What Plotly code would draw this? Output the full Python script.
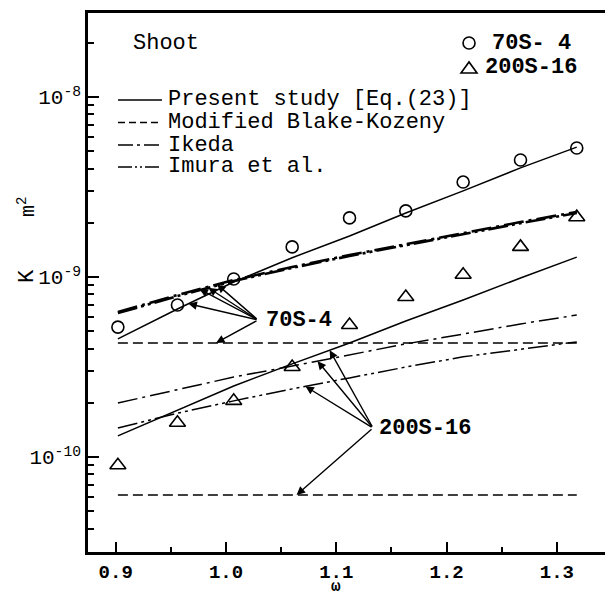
import numpy as np
import plotly.graph_objects as go

# ---------------- data ----------------
omega = [0.902, 0.956, 1.007, 1.060, 1.112, 1.163, 1.215, 1.267, 1.318]

# measured permeability (markers)
K_70S4 = [5.27e-10, 6.99e-10, 9.75e-10, 1.47e-9, 2.13e-9, 2.33e-9, 3.37e-9, 4.47e-9, 5.21e-9]
K_200S16 = [9.0e-11, 1.55e-10, 2.05e-10, 3.16e-10, 5.41e-10, 7.74e-10, 1.03e-9, 1.47e-9, 2.15e-9]

# Present study [Eq.(23)]
present_70S4 = [4.53e-10, 6.64e-10, 9.38e-10, 1.28e-9, 1.69e-9, 2.27e-9, 3.01e-9, 4.04e-9, 5.27e-9]
present_200S16 = [1.31e-10, 1.82e-10, 2.48e-10, 3.29e-10, 4.30e-10, 5.70e-10, 7.45e-10, 9.87e-10, 1.29e-9]

# Modified Blake-Kozeny (constant in omega)
bk_omega = [0.902, 1.318]
bk_70S4 = [4.30e-10, 4.30e-10]
bk_200S16 = [6.15e-11, 6.15e-11]

# Ikeda
ikeda_70S4 = [6.39e-10, 7.94e-10, 9.62e-10, 1.137e-9, 1.325e-9, 1.525e-9, 1.755e-9, 2.02e-9, 2.30e-9]
ikeda_200S16 = [1.995e-10, 2.36e-10, 2.78e-10, 3.20e-10, 3.69e-10, 4.25e-10, 4.82e-10, 5.48e-10, 6.15e-10]

# Imura et al.
imura_70S4 = [6.30e-10, 7.83e-10, 9.50e-10, 1.123e-9, 1.31e-9, 1.505e-9, 1.73e-9, 1.99e-9, 2.27e-9]
imura_200S16 = [1.45e-10, 1.75e-10, 2.05e-10, 2.39e-10, 2.75e-10, 3.16e-10, 3.60e-10, 3.98e-10, 4.36e-10]

x_ticks = [0.9, 1.0, 1.1, 1.2, 1.3]
x_ticktext = ["0.9", "1.0", "1.1", "1.2", "1.3"]
x_minor = [0.95, 1.05, 1.15, 1.25]
y_ticks = [1e-10, 1e-9, 1e-8]
y_ticktext = ["10<sup>-10</sup>", "10<sup>-9</sup>", "10<sup>-8</sup>"]
y_minor = [k * 10.0 ** e for e in (-11, -10, -9, -8) for k in range(2, 10)]

legend_lines = ["Present study [Eq.(23)]", "Modified Blake-Kozeny", "Ikeda", "Imura et al."]
series_names = ["70S- 4", "200S-16"]

# ---------------- styles ----------------
FONT = "Liberation Mono"
BLACK = "black"
DASH_BK = "10px,5px"
DASH_IKEDA = "20px,5px,3px,5px"
DASH_IMURA = "20px,4px,3px,4px,3px,4px"

fig = go.Figure()


def add_line(x, y, dash, width=1.5):
    fig.add_trace(go.Scatter(x=x, y=y, mode="lines",
                             line=dict(color=BLACK, width=width, dash=dash),
                             showlegend=False, hoverinfo="skip"))


add_line(omega, present_70S4, "solid")
add_line(omega, present_200S16, "solid")
add_line(bk_omega, bk_70S4, DASH_BK)
add_line(bk_omega, bk_200S16, DASH_BK)
add_line(omega, ikeda_70S4, DASH_IKEDA, 2.6)
add_line(omega, imura_70S4, DASH_IMURA, 2.6)
add_line(omega, ikeda_200S16, DASH_IKEDA)
add_line(omega, imura_200S16, DASH_IMURA)

fig.add_trace(go.Scatter(x=omega, y=K_70S4, mode="markers", name=series_names[0],
                         marker=dict(symbol="circle-open", size=12, color=BLACK,
                                     line=dict(width=1.6, color=BLACK)),
                         showlegend=False))
fig.add_trace(go.Scatter(x=omega, y=K_200S16, mode="markers", name=series_names[1],
                         marker=dict(symbol="triangle-up-open", size=14, color=BLACK,
                                     line=dict(width=1.6, color=BLACK)),
                         showlegend=False))

# ---------------- annotations ----------------
annotations = []


def logi(xq, ys):
    return float(np.interp(xq, omega, np.log10(ys)))


def arrow(xq, logy, tx, tlogy):
    annotations.append(dict(x=xq, y=logy, xref="x", yref="y", ax=tx, ay=tlogy,
                            axref="x", ayref="y", text="", showarrow=True,
                            arrowhead=2, arrowsize=1.2, arrowwidth=1.4,
                            arrowcolor=BLACK, standoff=0))


# 70S-4 label and arrows
t70 = (1.029, -9.239)
annotations.append(dict(x=1.0345, y=-9.239, xref="x", yref="y", text="70S-4",
                        showarrow=False, xanchor="left", yanchor="middle",
                        font=dict(family=FONT, size=22, weight="bold", color=BLACK)))
arrow(0.966, logi(0.966, present_70S4), *t70)
arrow(0.976, logi(0.976, ikeda_70S4), *t70)
arrow(0.984, logi(0.984, imura_70S4), *t70)
arrow(0.992, logi(0.992, ikeda_70S4), *t70)
arrow(0.991, float(np.log10(bk_70S4[0])), *t70)

# 200S-16 label and arrows
t200 = (1.1333, -9.839)
annotations.append(dict(x=1.1369, y=-9.839, xref="x", yref="y", text="200S-16",
                        showarrow=False, xanchor="left", yanchor="middle",
                        font=dict(family=FONT, size=22, weight="bold", color=BLACK)))
arrow(1.094, logi(1.094, present_200S16), *t200)
arrow(1.083, logi(1.083, ikeda_200S16), *t200)
arrow(1.072, logi(1.072, imura_200S16), *t200)
arrow(1.064, float(np.log10(bk_200S16[0])), *t200)

# "Shoot"
annotations.append(dict(x=0.083, y=0.9443, xref="paper", yref="paper", text="Shoot",
                        showarrow=False, xanchor="left", yanchor="middle",
                        font=dict(family=FONT, size=22, color=BLACK)))

# line-style legend (top left)
leg_y = [0.8386, 0.7968, 0.7551, 0.7143]
leg_dash = ["solid", "7px,4px", "15px,4px,3px,4px", "14px,3px,2px,3px,2px,3px"]
shapes = []
for name, yy, dd in zip(legend_lines, leg_y, leg_dash):
    shapes.append(dict(type="line", xref="paper", yref="paper", x0=0.058, x1=0.1431,
                       y0=yy, y1=yy, line=dict(color=BLACK, width=1.5, dash=dd)))
    annotations.append(dict(x=0.150, y=yy, xref="paper", yref="paper", text=name,
                            showarrow=False, xanchor="left", yanchor="middle",
                            font=dict(family=FONT, size=22, color=BLACK)))

# marker legend (top right)
shapes.append(dict(type="circle", xref="paper", yref="paper", xsizemode="pixel",
                   ysizemode="pixel", xanchor=0.737, yanchor=0.9443,
                   x0=-6, x1=6, y0=-6, y1=6, line=dict(color=BLACK, width=1.6)))
shapes.append(dict(type="path", xref="paper", yref="paper", xsizemode="pixel",
                   ysizemode="pixel", xanchor=0.737, yanchor=0.898,
                   path="M -8,-5 L 8,-5 L 0,6 Z", line=dict(color=BLACK, width=1.6)))
for name, yy in zip(series_names, [0.9443, 0.898]):
    annotations.append(dict(x=0.857, y=yy, xref="paper", yref="paper", text=name,
                            showarrow=False, xanchor="center", yanchor="middle",
                            font=dict(family=FONT, size=22, weight="bold", color=BLACK)))

# axis labels
annotations.append(dict(x=-0.118, y=0.512, xref="paper", yref="paper", text="K",
                        showarrow=False, textangle=-90, xanchor="center", yanchor="middle",
                        font=dict(family=FONT, size=22, color=BLACK)))
annotations.append(dict(x=-0.118, y=0.640, xref="paper", yref="paper", text="m<sup>2</sup>",
                        showarrow=False, textangle=-90, xanchor="center", yanchor="middle",
                        font=dict(family=FONT, size=20, color=BLACK)))
annotations.append(dict(x=1.1, y=-0.065, xref="x", yref="paper", text="ω",
                        showarrow=False, xanchor="center", yanchor="middle",
                        font=dict(family=FONT, size=16, weight="bold", color=BLACK)))

fig.update_layout(
    width=605, height=597,
    margin=dict(l=88, r=0, t=13, b=45),
    paper_bgcolor="white", plot_bgcolor="white",
    showlegend=False,
    font=dict(family=FONT, color=BLACK),
    annotations=annotations,
    shapes=shapes,
    xaxis=dict(range=[0.8749, 1.3436], tickmode="array", tickvals=x_ticks, ticktext=x_ticktext,
               ticks="inside", ticklen=10, tickwidth=1.5, tickcolor=BLACK,
               showline=True, linewidth=2.5, linecolor=BLACK, mirror=True,
               showgrid=False, zeroline=False,
               tickfont=dict(family=FONT, size=19, weight="bold", color=BLACK),
               minor=dict(tickmode="array", tickvals=x_minor, ticks="inside", ticklen=5,
                          tickwidth=1.5, tickcolor=BLACK, showgrid=False)),
    yaxis=dict(type="log", range=[-10.528, -7.533], tickmode="array", tickvals=y_ticks,
               ticktext=y_ticktext, ticks="inside", ticklen=11, tickwidth=1.5, tickcolor=BLACK,
               showline=True, linewidth=2.5, linecolor=BLACK, mirror=False,
               showgrid=False, zeroline=False,
               tickfont=dict(family=FONT, size=21, color=BLACK),
               minor=dict(tickmode="array", tickvals=y_minor, ticks="inside", ticklen=6,
                          tickwidth=1.5, tickcolor=BLACK, showgrid=False)),
)

fig.write_html("out.html")
